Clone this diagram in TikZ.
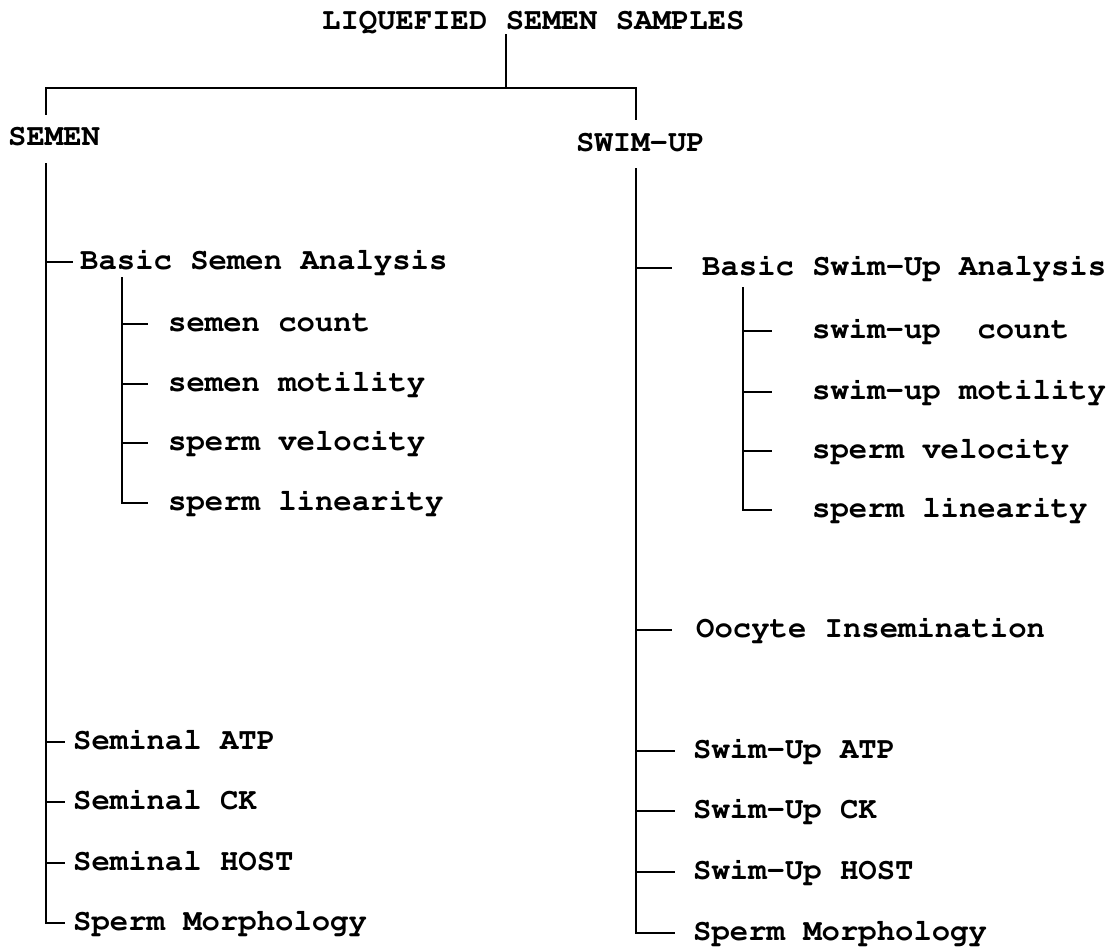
\documentclass[tikz,border=0pt]{standalone}
\usepackage[T1]{fontenc}
\usepackage{courier}
\usepackage{tikz}

\tikzset{
  head/.style={anchor=west, inner xsep=0pt, inner ysep=4pt, text height=14pt, text depth=0pt},
  item/.style={anchor=west, inner xsep=0pt, inner ysep=0pt, text height=14pt, text depth=0pt},
  branch/.style={line width=1.6pt},
}

\begin{document}
\begin{tikzpicture}[x=1pt,y=-1pt,font=\ttfamily\bfseries\fontsize{30.6}{36}\selectfont]
\useasboundingbox (0,0) rectangle (1112,950);

%% heads
\node[head] (liq) at (322,23) {LIQUEFIED SEMEN SAMPLES};
\node[head,inner ysep=17pt] (semen) at (8,139) {SEMEN};
\node[head,inner ysep=17pt] (swim) at (576,144) {SWIM-UP};

\coordinate (split) at (506,88);
\coordinate (lcorner) at (46,88);
\coordinate (rcorner) at (636,88);
\draw[branch] (liq.south -| split) -- (split);
\draw[branch] (semen.north -| lcorner) -- (lcorner) -- (rcorner) -- (swim.north -| rcorner);

%% semen side
\coordinate (lspine) at (semen.south -| lcorner);
\node[item] (bsa) at (80,262) {Basic Semen Analysis};
\node[item] (scount) at (168,324) {semen count};
\node[item] (smot) at (168,384) {semen motility};
\node[item] (svel) at (168,443) {sperm velocity};
\node[item] (slin) at (168,503) {sperm linearity};
\node[item] (satp) at (73,742) {Seminal ATP};
\node[item] (sck) at (73,802) {Seminal CK};
\node[item] (shost) at (73,863) {Seminal HOST};
\node[item] (smorph) at (73,923) {Sperm Morphology};

\draw[branch,shorten >=7pt] (lspine) |- (bsa.west);
\draw[branch,shorten >=8pt] (lspine) |- (satp.west);
\draw[branch,shorten >=8pt] (lspine) |- (sck.west);
\draw[branch,shorten >=8pt] (lspine) |- (shost.west);
\draw[branch,shorten >=8pt] (lspine) |- (smorph.west);

\coordinate (lsub) at (122,277);
\draw[branch,shorten >=20pt] (lsub) |- (scount.west);
\draw[branch,shorten >=20pt] (lsub) |- (smot.west);
\draw[branch,shorten >=20pt] (lsub) |- (svel.west);
\draw[branch,shorten >=20pt] (lsub) |- (slin.west);

%% swim-up side
\coordinate (rspine) at (swim.south -| rcorner);
\node[item] (bswa) at (702,268) {Basic Swim-Up Analysis};
\node[item] (wcount) at (812,331) {swim-up\ \ count};
\node[item] (wmot) at (812,392) {swim-up motility};
\node[item] (wvel) at (812,451) {sperm velocity};
\node[item] (wlin) at (812,510) {sperm linearity};
\node[item] (ooc) at (696,630) {Oocyte Insemination};
\node[item] (watp) at (693,751) {Swim-Up ATP};
\node[item] (wck) at (693,811) {Swim-Up CK};
\node[item] (whost) at (693,872) {Swim-Up HOST};
\node[item] (wmorph) at (693,933) {Sperm Morphology};

\draw[branch,shorten >=30pt] (rspine) |- (bswa.west);
\draw[branch,shorten >=24pt] (rspine) |- (ooc.west);
\draw[branch,shorten >=18pt] (rspine) |- (watp.west);
\draw[branch,shorten >=18pt] (rspine) |- (wck.west);
\draw[branch,shorten >=18pt] (rspine) |- (whost.west);
\draw[branch,shorten >=18pt] (rspine) |- (wmorph.west);

\coordinate (rsub) at (743,287);
\draw[branch,shorten >=40pt] (rsub) |- (wcount.west);
\draw[branch,shorten >=40pt] (rsub) |- (wmot.west);
\draw[branch,shorten >=40pt] (rsub) |- (wvel.west);
\draw[branch,shorten >=40pt] (rsub) |- (wlin.west);

\end{tikzpicture}
\end{document}
